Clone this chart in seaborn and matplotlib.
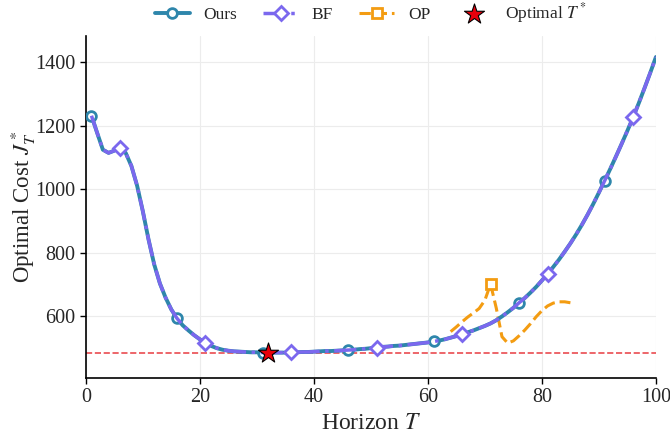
import numpy as np
import pandas as pd
import matplotlib
matplotlib.use("Agg")
import matplotlib.pyplot as plt
import seaborn as sns

# ---------------- data ----------------
horizon = list(range(1, 101))
cost_ours = [
    1231, 1177, 1124, 1114, 1121, 1130, 1114, 1073, 1011, 931,
    842, 763, 703, 658, 621, 593, 571, 555, 540, 527,
    516, 506, 499, 494, 491, 489, 488, 487, 486, 486,
    485, 485, 485, 485, 485, 486, 486, 487, 487, 488,
    489, 490, 490, 491, 492, 493, 494, 496, 497, 499,
    501, 503, 504, 506, 507, 509, 511, 513, 515, 517,
    520, 523, 527, 532, 537, 543, 549, 555, 562, 569,
    577, 587, 599, 612, 626, 642, 657, 674, 692, 712,
    733, 755, 778, 803, 829, 857, 887, 919, 953, 989,
    1026, 1064, 1103, 1143, 1184, 1226, 1271, 1318, 1366, 1416,
]
cost_bf = list(cost_ours)

op_horizon = list(range(64, 86))
cost_op = [551, 566, 582, 597, 610, 624, 650, 701, 625, 535,
           515, 522, 538, 556, 576, 598, 617, 632, 641, 645,
           645, 642]

opt_T = 32
opt_cost = 485

x_ticks = [0, 20, 40, 60, 80, 100]
y_ticks = [600, 800, 1000, 1200, 1400]

# ---------------- style ----------------
sns.set_theme(style="ticks")
plt.rcParams["font.family"] = ["Liberation Serif", "DejaVu Serif"]
plt.rcParams["mathtext.fontset"] = "stix"

c_ours = "#2E86AB"
c_bf = "#7B68EE"
c_op = "#F39C12"

fig = plt.figure(figsize=(6.7, 4.34), dpi=100)
ax = fig.add_axes([0.128, 0.129, 0.851, 0.788])

df_main = pd.DataFrame({"T": horizon, "ours": cost_ours, "bf": cost_bf})
df_op = pd.DataFrame({"T": op_horizon, "op": cost_op})

sns.lineplot(data=df_main, x="T", y="ours", ax=ax, color=c_ours, lw=2.8,
             marker="o", markersize=7, markerfacecolor="white",
             markeredgecolor=c_ours, markeredgewidth=2,
             markevery=slice(0, None, 15), label="Ours", zorder=3)
sns.lineplot(data=df_main, x="T", y="bf", ax=ax, color=c_bf, lw=2.5,
             linestyle="-.", marker="D", markersize=7,
             markerfacecolor="white", markeredgecolor=c_bf,
             markeredgewidth=2, markevery=slice(5, None, 15),
             label="BF", zorder=4)
sns.lineplot(data=df_op, x="T", y="op", ax=ax, color=c_op, lw=2.2,
             linestyle="--", marker="s", markersize=7,
             markerfacecolor="white", markeredgecolor=c_op,
             markeredgewidth=2, markevery=[7], label="OP", zorder=2)

ax.axhline(opt_cost, color="#e8383d", lw=1.2, ls="--", alpha=0.9, zorder=1)
ax.scatter([opt_T], [opt_cost], marker="*", s=230, color="#e8000b",
           edgecolor="black", linewidth=0.8, zorder=6,
           label="Optimal $T^*$")

ax.set_xlim(0, 100)
ax.set_ylim(405, 1482)
ax.set_xticks(x_ticks)
ax.set_yticks(y_ticks)
ax.tick_params(labelsize=14.5, direction="out", length=4, width=1,
               color="black")
ax.grid(True, color="#ececec", lw=0.8)
for s in ["top", "right"]:
    ax.spines[s].set_visible(False)
for s in ["left", "bottom"]:
    ax.spines[s].set_color("black")
    ax.spines[s].set_linewidth(1.2)

ax.set_xlabel("Horizon $T$", fontsize=17)
ax.set_ylabel("Optimal Cost $J_T^*$", fontsize=16.5)
ax.yaxis.set_label_coords(-0.083, 0.5)

ax.legend(loc="center", bbox_to_anchor=(0.5, 1.066), ncol=4,
          frameon=False, fontsize=12.5, handlelength=2.0,
          columnspacing=1.5, handletextpad=0.8)

fig.savefig("out.png", dpi=100)
